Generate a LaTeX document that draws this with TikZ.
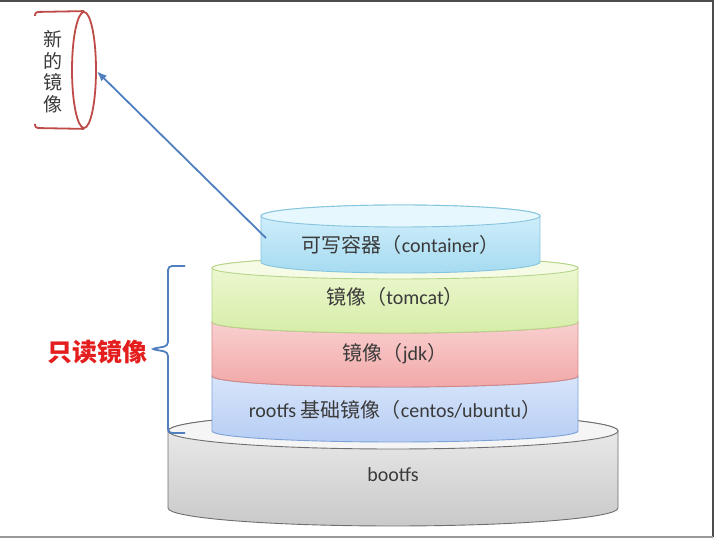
\documentclass[tikz,border=0pt]{standalone}
\usepackage{fontspec}
\setmainfont{Carlito}
\newfontfamily\cjk{Noto Sans CJK SC}
\usetikzlibrary{arrows.meta,shapes.geometric}
\definecolor{txtgray}{HTML}{3A3A3A}
\definecolor{topboot}{HTML}{EEEEEE}\definecolor{botboot}{HTML}{C9C9C9}\definecolor{lineboot}{HTML}{6E6E6E}
\definecolor{toproot}{HTML}{DDE9FB}\definecolor{botroot}{HTML}{B6CDF4}\definecolor{lineroot}{HTML}{7DA2D6}
\definecolor{topjdk}{HTML}{FAD6D6}\definecolor{botjdk}{HTML}{F2A8A8}\definecolor{linejdk}{HTML}{D38888}
\definecolor{toptom}{HTML}{F0F9D6}\definecolor{bottom}{HTML}{D6EDA8}\definecolor{linetom}{HTML}{B6D58A}
\definecolor{topctr}{HTML}{D6F1FC}\definecolor{botctr}{HTML}{A6DBF1}\definecolor{linectr}{HTML}{84C4DE}
\definecolor{imgred}{HTML}{BE4B48}
\definecolor{arrowblue}{HTML}{4F7FBE}
\definecolor{rored}{HTML}{E41E1E}
\begin{document}
\begin{tikzpicture}[x=1pt, y=1pt,
  layer/.style={line width=0.9pt},
  lbl/.style={font=\fontsize{20}{24}\selectfont, text=txtgray}]
\useasboundingbox (0,0) rectangle (714,540);
% screen frame
\draw[line width=2pt, black!70] (0,539) -- (712.5,539) -- (712.5,3);
\draw[line width=2pt, black!40] (712.5,3) -- (0,3);
% layers, bottom to top
\foreach \n/\cx/\rx/\yt/\yb/\ry/\ty/\c/\t in {
  boot/393/225/109/32/18/65/boot/{bootfs},
  root/395/183/164/109/11/130/root/{rootfs {\cjk 基础镜像（}centos/ubuntu{\cjk ）}},
  jdk/395/183/218/164/11/186/jdk/{{\cjk 镜像（}jdk{\cjk ）}},
  tom/395/183/272/218/11/243/tom/{{\cjk 镜像（}tomcat{\cjk ）}},
  ctr/400.5/139.5/324/278/11/295/ctr/{{\cjk 可写容器（}container{\cjk ）}}} {
  \path[layer, draw=line\c, top color=top\c, bottom color=bot\c]
    (\cx-\rx,\yt) -- (\cx-\rx,\yb)
    arc[start angle=180, end angle=360, x radius=\rx pt, y radius=\ry pt]
    -- (\cx+\rx,\yt)
    arc[start angle=0, end angle=180, x radius=\rx pt, y radius=\ry pt] -- cycle;
  \path[layer, draw=line\c, fill=top\c!60!white] (\cx,\yt) ellipse[x radius=\rx pt, y radius=\ry pt];
  \node[lbl] (\n) at (\cx,\ty) {\t};
}
% new image
\node[draw=imgred, line width=1.8pt, fill=white, ellipse, inner sep=0pt,
  minimum width=24pt, minimum height=116pt] (newimg) at (84,470) {};
\draw[imgred, line width=1.8pt, rounded corners=3pt] (newimg.north) -- (35,528) -- (35,524);
\draw[imgred, line width=1.8pt, rounded corners=3pt] (newimg.south) -- (35,412) -- (35,416);
\node[font=\cjk\fontsize{19}{21.5}\selectfont, align=center, text=txtgray] (newtxt) at (53,468.5) {新\\的\\镜\\像};
\coordinate (ctrtail) at (266,302);
\draw[-{Latex[length=10pt,width=8pt]}, arrowblue, line width=1.8pt] (ctrtail) -- (newimg.-6);
% read-only bracket
\node[font=\cjk\bfseries\fontsize{25}{29}\selectfont, text=rored] (ro) at (97,188) {只读镜像};
\draw[arrowblue, line width=1.8pt, rounded corners=4pt] (185,274) -- (168,274) -- (168,194) -- (151,191)
  -- (168,188) -- (168,107) -- (185,107);
\end{tikzpicture}
\end{document}
